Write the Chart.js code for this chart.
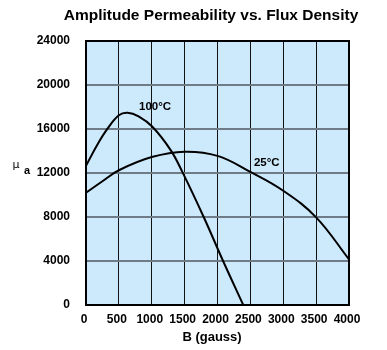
<!DOCTYPE html>
<html>
<head>
<meta charset="utf-8">
<script src="https://cdn.jsdelivr.net/npm/chart.js@4"></script>
<style>
  body { margin: 0; background: #fff; }
  canvas { display: block; }
</style>
</head>
<body>
<canvas id="grafica" width="387" height="350"></canvas>
<script>
// Datos
const bGauss25 = [0, 250, 500, 1000, 1500, 2000, 2500, 3000, 3500, 4000];
const mu25 = [10200, 11250, 12250, 13450, 13940, 13560, 12100, 10390, 7970, 4150];

const bGauss100 = [0, 170, 330, 500, 630, 800, 1010, 1285, 1465, 1790, 2085, 2392];
const mu100 = [12650, 14550, 16050, 17250, 17480, 17150, 16200, 14100, 12100, 8000, 4000, 0];

const xTicks = [0, 500, 1000, 1500, 2000, 2500, 3000, 3500, 4000];
const yTicks = [0, 4000, 8000, 12000, 16000, 20000, 24000];

const curveLabels = [
    { text: "100°C", x: 1050, y: 18000 },
    { text: "25°C", x: 2750, y: 12900 }
];

function toPoints(xs, ys) {
    return xs.map((x, i) => ({ x: x, y: ys[i] }));
}

const fontFam = "'Liberation Sans', Arial, sans-serif";

// Fondo azul del área de la gráfica y textos extra
const extrasPlugin = {
    id: "extras",
    beforeDraw(chart) {
        const { ctx, chartArea: a } = chart;
        ctx.save();
        ctx.fillStyle = "#cde9fc";
        ctx.fillRect(a.left, a.top, a.right - a.left, a.bottom - a.top);
        ctx.restore();
    },
    afterDraw(chart) {
        const { ctx, chartArea: a } = chart;
        const xs = chart.scales.x, ys = chart.scales.y;
        ctx.save();
        ctx.fillStyle = "#000";
        ctx.textBaseline = "middle";

        // título
        ctx.textAlign = "center";
        ctx.font = "bold 15.5px " + fontFam;
        ctx.fillText("Amplitude Permeability vs. Flux Density", 211, 16);

        // título eje x
        ctx.font = "bold 13px " + fontFam;
        ctx.fillText("B (gauss)", 212, 337);

        // μa
        ctx.font = "11px 'DejaVu Sans', sans-serif";
        ctx.fillText("μ", 16, 165);
        ctx.font = "bold 11px " + fontFam;
        ctx.fillText("a", 27, 171);

        // etiquetas de curvas
        ctx.font = "bold 11.5px " + fontFam;
        curveLabels.forEach(l => {
            ctx.fillText(l.text, xs.getPixelForValue(l.x), ys.getPixelForValue(l.y));
        });

        // borde
        ctx.strokeStyle = "#000";
        ctx.lineWidth = 2;
        ctx.strokeRect(a.left, a.top, a.right - a.left, a.bottom - a.top);
        ctx.restore();
    }
};

new Chart(document.getElementById("grafica"), {
    type: "line",
    data: {
        datasets: [
            {
                label: "25°C",
                data: toPoints(bGauss25, mu25),
                borderColor: "#000",
                borderWidth: 2,
                pointRadius: 0,
                tension: 0.4,
                fill: false
            },
            {
                label: "100°C",
                data: toPoints(bGauss100, mu100),
                borderColor: "#000",
                borderWidth: 2,
                pointRadius: 0,
                tension: 0.4,
                fill: false
            }
        ]
    },
    options: {
        responsive: false,
        animation: false,
        layout: { padding: { top: 41, right: 38, left: 0, bottom: 0 } },
        plugins: {
            legend: { display: false },
            tooltip: { enabled: false },
            title: { display: false }
        },
        scales: {
            x: {
                type: "linear",
                min: 0,
                max: 4000,
                afterBuildTicks: s => { s.ticks = xTicks.map(v => ({ value: v })); },
                afterFit: s => { s.height = 45; },
                grid: { color: "#111", lineWidth: 1, drawTicks: false },
                border: { display: false },
                ticks: {
                    color: "#000",
                    font: { family: fontFam, size: 12, weight: "bold" },
                    padding: 7,
                    maxRotation: 0,
                    labelOffset: -2,
                    callback: v => String(v)
                }
            },
            y: {
                min: 0,
                max: 24000,
                afterBuildTicks: s => { s.ticks = yTicks.map(v => ({ value: v })); },
                afterFit: s => { s.width = 86; },
                grid: { color: "#6f7b86", lineWidth: 2, drawTicks: false },
                border: { display: false },
                ticks: {
                    color: "#000",
                    font: { family: fontFam, size: 12, weight: "bold" },
                    padding: 16,
                    callback: v => String(v)
                }
            }
        }
    },
    plugins: [extrasPlugin]
});
</script>
</body>
</html>
